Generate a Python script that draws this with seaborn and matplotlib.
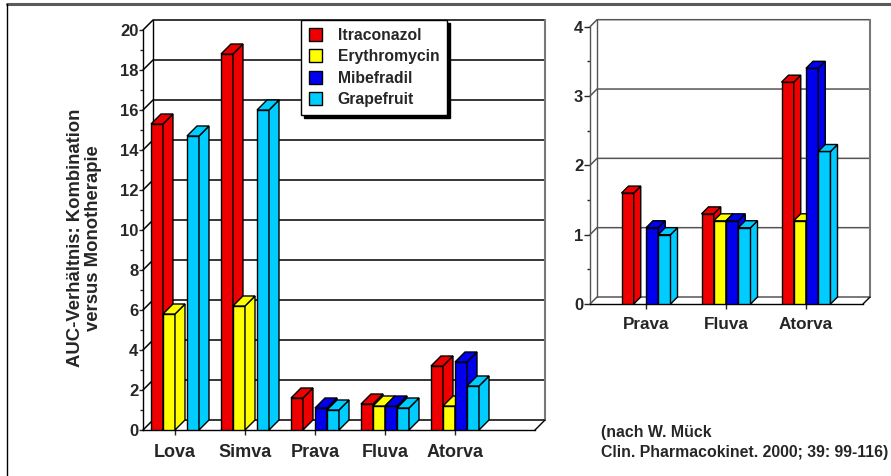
import numpy as np
import pandas as pd
import matplotlib
matplotlib.use("Agg")
import matplotlib.pyplot as plt
import seaborn as sns
from matplotlib.patches import Polygon, Patch
from matplotlib.lines import Line2D
from matplotlib.ticker import MultipleLocator
from matplotlib.font_manager import FontProperties

# ---- data -------------------------------------------------------------
statins = ["Lova", "Simva", "Prava", "Fluva", "Atorva"]
detail_statins = ["Prava", "Fluva", "Atorva"]
inhibitors = ["Itraconazol", "Erythromycin", "Mibefradil", "Grapefruit"]

itraconazol = [15.3, 18.8, 1.6, 1.3, 3.2]
erythromycin = [5.8, 6.2, np.nan, 1.2, 1.2]
mibefradil = [np.nan, np.nan, 1.1, 1.2, 3.4]
grapefruit = [14.7, 16.0, 1.0, 1.1, 2.2]

main_ticks = list(range(0, 21, 2))
detail_ticks = [0, 1, 2, 3, 4]

ylabel_text = "AUC-Verhältnis: Kombination\nversus Monotherapie"
source_lines = ["(nach W. Mück", "Clin. Pharmacokinet. 2000; 39: 99-116)"]

colors = {
    "Itraconazol": "#EE0000",
    "Erythromycin": "#FFFF00",
    "Mibefradil": "#0000EE",
    "Grapefruit": "#00CCFF",
}

wide = pd.DataFrame({
    "Statin": statins,
    "Itraconazol": itraconazol,
    "Erythromycin": erythromycin,
    "Mibefradil": mibefradil,
    "Grapefruit": grapefruit,
})
long = wide.melt(id_vars="Statin", var_name="Inhibitor", value_name="AUC").dropna()

# ---- styling ----------------------------------------------------------
sns.set_style("white")
plt.rcParams["font.family"] = ["Liberation Sans", "DejaVu Sans"]
plt.rcParams["font.weight"] = "bold"

W, H = 891, 476
fig = plt.figure(figsize=(W / 100, H / 100), dpi=100)


def px_axes(x0, x1, ytop, ybot):
    return fig.add_axes([x0 / W, 1 - ybot / H, (x1 - x0) / W, (ybot - ytop) / H])


def depth_in_data(ax, depth):
    bb = ax.get_position()
    x0, x1 = ax.get_xlim()
    y0, y1 = ax.get_ylim()
    return (depth / (bb.width * W) * (x1 - x0),
            depth / (bb.height * H) * (y1 - y0))


def draw_chart(ax, data, order, width, xlim, ticks, minor, depth,
               grid_color, label_size, tick_len, tick_pad, xpad):
    sns.barplot(data=data, x="Statin", y="AUC", hue="Inhibitor",
                order=order, hue_order=inhibitors, palette=colors,
                width=width, saturation=1, edgecolor="black", linewidth=1,
                errorbar=None, legend=False, ax=ax)
    ax.set_xlim(*xlim)
    ax.set_ylim(ticks[0], ticks[-1])
    ax.set_xlabel("")
    ax.set_ylabel("")
    ax.patch.set_alpha(0)

    dxd, dyd = depth_in_data(ax, depth)

    # 3-D look: side and top faces of every bar
    for k, container in enumerate(ax.containers):
        for bar in container:
            h = bar.get_height()
            if not np.isfinite(h) or h <= 0:
                continue
            bar.set_zorder(3 + k)
            x0 = bar.get_x()
            x1 = x0 + bar.get_width()
            fc = bar.get_facecolor()
            side = Polygon([(x1, 0), (x1 + dxd, dyd), (x1 + dxd, h + dyd), (x1, h)],
                           closed=True, facecolor=fc, edgecolor="black",
                           linewidth=1, zorder=3 + k, clip_on=False)
            top = Polygon([(x0, h), (x1, h), (x1 + dxd, h + dyd), (x0 + dxd, h + dyd)],
                          closed=True, facecolor=fc, edgecolor="black",
                          linewidth=1, zorder=3 + k, clip_on=False)
            ax.add_patch(side)
            ax.add_patch(top)

    # back wall, side-wall grid lines and floor
    xa, xb = xlim
    for v in ticks:
        ax.plot([xa, xa + dxd, xb + dxd], [v, v + dyd, v + dyd],
                color=grid_color, lw=1.1, clip_on=False, zorder=1)
    ax.plot([xa + dxd, xa + dxd], [dyd, ticks[-1] + dyd], color=grid_color,
            lw=1, clip_on=False, zorder=1)
    ax.plot([xb + dxd, xb + dxd], [dyd, ticks[-1] + dyd], color="#777777",
            lw=1.5, clip_on=False, zorder=1)
    ax.plot([xb, xb + dxd], [0, dyd], color="black", lw=1, clip_on=False, zorder=2)

    for s in ["top", "right"]:
        ax.spines[s].set_visible(False)
    ax.spines["left"].set_color(grid_color)
    ax.spines["bottom"].set_color("black")
    ax.spines["left"].set_linewidth(1)
    ax.spines["bottom"].set_linewidth(1)

    ax.set_yticks(ticks, labels=[str(t) for t in ticks])
    ax.yaxis.set_minor_locator(MultipleLocator(minor))
    ax.tick_params(axis="y", which="major", length=tick_len, width=1,
                   pad=tick_pad, labelsize=12, direction="out", left=True)
    ax.tick_params(axis="y", which="minor", length=2, width=1,
                   direction="out", left=True)
    ax.set_xticks(range(len(order)), labels=order)
    ax.tick_params(axis="x", length=3.6, width=1, pad=xpad,
                   labelsize=label_size, direction="out", bottom=True)
    for lab in ax.get_xticklabels() + ax.get_yticklabels():
        lab.set_fontweight("bold")


# main chart: all statins
ax_main = px_axes(143, 535, 30, 430)
draw_chart(ax_main, long, statins, 0.686, (-0.457, 5.143), main_ticks, 1,
           10, "black", 13, 3, 0.3, 6.2)

# detail chart: weaker interactions on an expanded scale
detail = long[long["Statin"].isin(detail_statins)]
ax_detail = px_axes(590, 863, 26.7, 304)
draw_chart(ax_detail, detail, detail_statins, 0.6125, (-0.7, 2.7125), detail_ticks,
           0.5, 7, "#555555", 12.3, 4.3, 0.5, 5.8)

# legend with drop shadow
handles = [Patch(facecolor=colors[k], edgecolor="black", linewidth=1) for k in inhibitors]
leg = fig.legend(handles, inhibitors, loc="upper left",
                 bbox_to_anchor=(301 / W, 1 - 20 / H), bbox_transform=fig.transFigure,
                 frameon=True, fancybox=False, shadow={"color": "black", "alpha": 1},
                 prop=FontProperties(family="Liberation Sans", weight="bold", size=11.3),
                 handlelength=0.83, handleheight=0.9, handletextpad=1.0,
                 labelspacing=0.41, borderpad=0.5, borderaxespad=0)
leg.get_frame().set_edgecolor("black")
leg.get_frame().set_linewidth(1)
leg.get_frame().set_alpha(1)

# y-axis title: one two-line text block
fig.text(84.5 / W, 1 - 238 / H, ylabel_text, rotation=90, ha="center", va="center",
         multialignment="center", linespacing=1.05, fontsize=13.3, fontweight="bold")

# source note
fig.text(601 / W, 1 - 432.7 / H, source_lines[0], ha="left", va="center",
         fontsize=11.4, fontweight="bold")
fig.text(601 / W, 1 - 452 / H, source_lines[1], ha="left", va="center",
         fontsize=11.4, fontweight="bold")

# slide frame
fig.add_artist(Line2D([7 / W, 1], [1 - 4 / H, 1 - 4 / H], color="#5a5a5a", lw=2.2))
fig.add_artist(Line2D([7 / W, 7 / W], [0, 1 - 4 / H], color="black", lw=1))

fig.savefig("out.png", dpi=100)
